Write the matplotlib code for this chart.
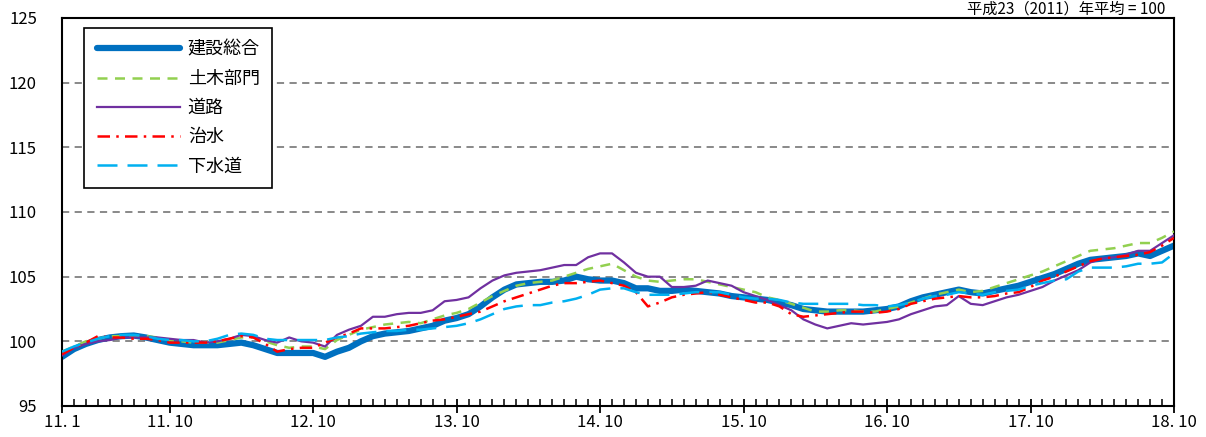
import numpy as np
import matplotlib.pyplot as plt
from matplotlib.ticker import FixedLocator, NullFormatter

plt.rcParams['font.family'] = ['Noto Sans CJK JP', 'DejaVu Sans']

# monthly index 2011.1 .. 2018.10 (94 months)
months = np.arange(94)
tick_pos = [0, 9, 21, 33, 45, 57, 69, 81, 93]
tick_labels = ['11. 1', '11. 10', '12. 10', '13. 10', '14. 10', '15. 10', '16. 10', '17. 10', '18. 10']

kensetsu = [98.8, 99.4, 99.8, 100.1, 100.3, 100.4, 100.45, 100.3, 100.1, 99.9,
            99.8, 99.7, 99.7, 99.7, 99.8, 99.9, 99.7, 99.4, 99.1, 99.1,
            99.1, 99.1, 98.8, 99.2, 99.5, 100.0, 100.4, 100.6, 100.7, 100.8,
            101.0, 101.2, 101.6, 101.8, 102.1, 102.7, 103.4, 104.0, 104.4, 104.5,
            104.6, 104.6, 104.7, 105.0, 104.8, 104.7, 104.7, 104.5, 104.1, 104.1,
            103.9, 103.9, 104.0, 103.9, 103.8, 103.7, 103.5, 103.4, 103.3, 103.2,
            103.0, 102.8, 102.5, 102.4, 102.3, 102.3, 102.3, 102.3, 102.4, 102.5,
            102.7, 103.1, 103.4, 103.6, 103.8, 104.0, 103.8, 103.7, 103.9, 104.1,
            104.3, 104.6, 104.9, 105.2, 105.6, 106.0, 106.3, 106.4, 106.5, 106.6,
            106.8, 106.6, 107.0, 107.4]

doboku = [99.2, 99.6, 100.0, 100.2, 100.4, 100.4, 100.4, 100.4, 100.3, 100.1,
          100.0, 99.9, 99.9, 99.9, 100.1, 100.3, 100.3, 100.0, 99.7, 99.5,
          99.6, 99.6, 99.4, 100.1, 100.5, 100.9, 101.1, 101.3, 101.4, 101.5,
          101.4, 101.7, 102.0, 102.2, 102.5, 103.0, 103.5, 103.9, 104.3, 104.5,
          104.6, 104.7, 105.0, 105.3, 105.6, 105.8, 106.0, 105.5, 105.0, 104.7,
          104.6, 104.7, 104.8, 104.8, 104.6, 104.4, 104.2, 104.0, 103.8, 103.4,
          103.2, 102.9, 102.6, 102.3, 102.3, 102.4, 102.4, 102.3, 102.3, 102.5,
          102.7, 103.0, 103.3, 103.6, 103.8, 104.0, 103.8, 103.9, 104.2, 104.5,
          104.8, 105.1, 105.4, 105.8, 106.2, 106.6, 107.0, 107.1, 107.2, 107.4,
          107.6, 107.6, 108.0, 108.5]

douro = [98.9, 99.5, 99.8, 100.0, 100.1, 100.3, 100.3, 100.3, 100.3, 100.2,
         100.1, 100.1, 99.9, 100.0, 100.2, 100.5, 100.4, 100.1, 99.9, 100.3,
         100.0, 99.9, 99.6, 100.5, 100.9, 101.2, 101.9, 101.9, 102.1, 102.2,
         102.2, 102.4, 103.1, 103.2, 103.4, 104.1, 104.7, 105.1, 105.3, 105.4,
         105.5, 105.7, 105.9, 105.9, 106.5, 106.8, 106.8, 106.1, 105.3, 105.0,
         105.0, 104.2, 104.2, 104.3, 104.7, 104.5, 104.3, 103.8, 103.5, 103.2,
         102.8, 102.4, 101.7, 101.3, 101.0, 101.2, 101.4, 101.3, 101.4, 101.5,
         101.7, 102.1, 102.4, 102.7, 102.8, 103.5, 102.9, 102.8, 103.1, 103.4,
         103.6, 103.9, 104.2, 104.7, 105.1, 105.5, 106.1, 106.4, 106.5, 106.7,
         107.0, 107.0, 107.6, 108.2]

chisui = [99.0, 99.5, 99.9, 100.4, 100.3, 100.3, 100.2, 100.2, 100.1, 99.9,
          99.9, 99.9, 99.9, 100.0, 100.2, 100.4, 100.3, 99.8, 99.2, 99.4,
          99.5, 99.5, 99.9, 100.3, 100.6, 101.0, 101.0, 101.0, 101.1, 101.2,
          101.4, 101.6, 101.7, 101.9, 102.1, 102.3, 102.7, 103.1, 103.4, 103.7,
          104.0, 104.3, 104.5, 104.5, 104.6, 104.7, 104.5, 104.3, 103.8, 102.7,
          103.0, 103.4, 103.6, 103.7, 103.8, 103.6, 103.4, 103.2, 103.0, 103.0,
          102.7, 102.1, 101.9, 102.0, 102.1, 102.2, 102.3, 102.3, 102.2, 102.3,
          102.5, 102.9, 103.1, 103.3, 103.4, 103.5, 103.4, 103.4, 103.5, 103.7,
          103.8, 104.2, 104.7, 105.0, 105.4, 105.8, 106.2, 106.4, 106.5, 106.6,
          106.7, 106.9, 107.4, 108.0]

gesuidou = [99.2, 99.6, 99.9, 100.2, 100.4, 100.5, 100.5, 100.4, 100.2, 100.1,
            100.1, 100.0, 100.0, 100.2, 100.5, 100.6, 100.5, 100.2, 100.1, 100.1,
            100.1, 100.1, 100.1, 100.3, 100.4, 100.6, 100.7, 100.8, 100.8, 100.9,
            100.9, 101.0, 101.1, 101.2, 101.4, 101.7, 102.1, 102.5, 102.7, 102.8,
            102.8, 103.0, 103.1, 103.3, 103.6, 104.0, 104.1, 104.1, 103.8, 103.6,
            103.6, 103.6, 103.7, 103.8, 103.8, 103.8, 103.6, 103.4, 103.3, 103.3,
            103.2, 103.0, 102.9, 102.9, 102.9, 102.9, 102.9, 102.8, 102.8, 102.7,
            102.8, 103.0, 103.3, 103.5, 103.6, 103.8, 103.7, 103.6, 103.8, 103.9,
            104.0, 104.3, 104.5, 104.7, 104.8, 105.4, 105.7, 105.7, 105.7, 105.8,
            106.0, 106.0, 106.1, 106.8]

fig = plt.figure(figsize=(12.06, 4.37), dpi=100)
ax = fig.add_axes([62 / 1206, 31 / 437, 1112 / 1206, 388 / 437])

for yv in [100, 105, 110, 115, 120]:
    ax.axhline(yv, color='#808080', lw=1.3, dashes=(4, 3), zorder=0)

ax.plot(months, kensetsu, color='#0070C0', lw=4.5, label='建設総合', zorder=2,
        solid_capstyle='round')
ax.plot(months, doboku, color='#92D050', lw=1.8, dashes=(4, 3), label='土木部門', zorder=3)
ax.plot(months, douro, color='#7030A0', lw=1.6, label='道路', zorder=3)
ax.plot(months, chisui, color='#FF0000', lw=1.8, dashes=(5, 2.5, 1, 2.5), label='治水', zorder=3)
ax.plot(months, gesuidou, color='#00B0F0', lw=1.8, dashes=(8, 4), label='下水道', zorder=3)

ax.set_xlim(0, 93)
ax.set_ylim(95, 125)
ax.set_yticks(range(95, 126, 5))
ax.tick_params(axis='y', length=0, labelsize=12, pad=18)

ax.xaxis.set_major_locator(FixedLocator(tick_pos))
ax.set_xticklabels(tick_labels)
ax.xaxis.set_minor_locator(FixedLocator(months))
ax.xaxis.set_minor_formatter(NullFormatter())
ax.tick_params(axis='x', which='major', direction='inout', length=10, width=1.3, labelsize=12, pad=1)
ax.tick_params(axis='x', which='minor', direction='in', length=5, width=1.1)

for s in ax.spines.values():
    s.set_linewidth(1.5)
    s.set_color('black')

leg = ax.legend(loc='upper left', bbox_to_anchor=(22 / 1112, 378 / 388), borderaxespad=0,
                fancybox=False, edgecolor='black', fontsize=13, handlelength=4.6,
                handletextpad=0.45, labelspacing=0.62, borderpad=0.7, framealpha=1)
leg.get_frame().set_linewidth(1.2)

fig.text(1165 / 1206, (437 - 14) / 437, '平成23（2011）年平均 = 100', ha='right',
         va='baseline', fontsize=11)

fig.savefig('out.png', dpi=100)
